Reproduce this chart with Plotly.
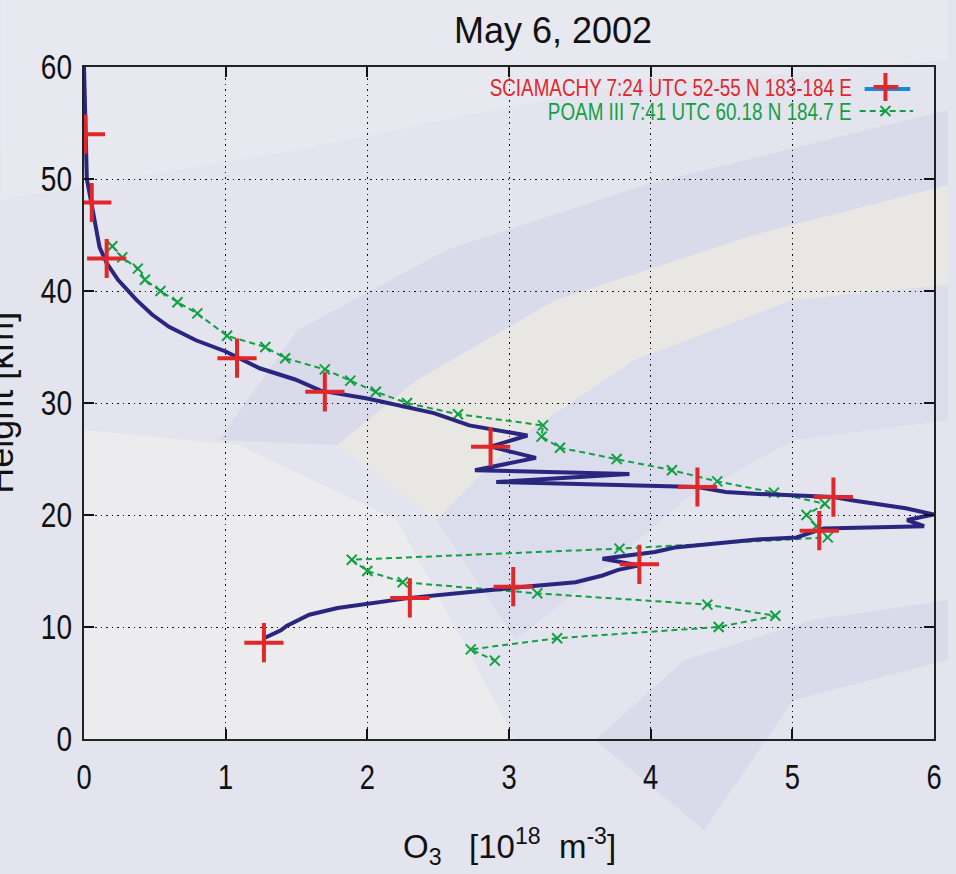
import plotly.graph_objects as go

# --- SCIAMACHY retrieved ozone profile (continuous line) ---
sci_profile_height = [60, 57, 54, 52, 50, 48, 45.7, 43.9, 42.5, 41, 39.2, 37.9, 36.8, 35.6,
                      34.6, 33.1, 32.1, 31.1, 30.4, 29.1, 28.0, 27.1, 26.1, 25.1, 24.0, 23.65,
                      22.95, 22.5, 22.05, 21.9, 21.6, 21.3, 20.6, 20.05, 19.55, 19.0, 18.8,
                      18.0, 17.8, 17.1, 16.7, 16.1, 15.5, 15.1, 14.6, 14.0, 13.5, 12.6, 11.7,
                      11.1, 10.1, 9.7, 9.0]
sci_profile_o3 = [0.0, 0.005, 0.01, 0.012, 0.02, 0.05, 0.08, 0.11, 0.16, 0.24, 0.37, 0.48, 0.60,
                  0.79, 1.0, 1.24, 1.49, 1.67, 2.0, 2.47, 2.72, 3.13, 2.87, 3.19, 2.76, 3.85,
                  2.91, 4.33, 4.53, 4.73, 5.29, 5.43, 5.80, 6.0, 5.81, 5.93, 5.22,
                  5.03, 4.73, 4.17, 4.03, 3.66, 3.92, 3.77, 3.66, 3.47, 3.03, 2.30, 1.79,
                  1.59, 1.43, 1.39, 1.27]

# --- SCIAMACHY retrieval levels (crosses) ---
sci_point_height = [54, 47.9, 42.9, 34.0, 31.0, 26.1, 22.5, 21.6, 18.6, 15.6, 13.6, 12.6, 8.6]
sci_point_o3 = [0.01, 0.055, 0.16, 1.08, 1.70, 2.87, 4.33, 5.29, 5.19, 3.92, 3.03, 2.30, 1.27]

# --- POAM III occultation profile ---
poam_height = [44, 43, 42, 41, 40, 39, 38, 36, 35, 34, 33, 32, 31, 30, 29, 28, 27, 26, 25, 24,
               23, 22, 21, 20, 19, 18, 17, 16, 15, 14, 13, 12, 11, 10, 9, 8, 7]
poam_o3 = [0.20, 0.27, 0.38, 0.43, 0.54, 0.66, 0.80, 1.01, 1.28, 1.42, 1.70, 1.88, 2.06, 2.28,
           2.64, 3.24, 3.23, 3.36, 3.76, 4.15, 4.47, 4.87, 5.23, 5.10, 5.17, 5.25, 3.78, 1.89,
           2.00, 2.25, 3.20, 4.40, 4.88, 4.48, 3.34, 2.73, 2.90]

x_ticks = [0, 1, 2, 3, 4, 5, 6]
y_ticks = [0, 10, 20, 30, 40, 50, 60]

sci_label = "SCIAMACHY 7:24 UTC 52-55 N 183-184 E"
poam_label = "POAM III 7:41 UTC 60.18 N 184.7 E"

NAVY = "#2a2680"
RED = "#e0282a"
GREEN = "#12a043"
FONT = "Liberation Sans, Arial, sans-serif"

W, H = 956, 874
ML, MR, MT, MB = 84, 14, 67, 135
PW, PH = W - ML - MR, H - MT - MB


def px(x):
    return (x - ML) / PW


def py(y):
    return (H - MB - y) / PH


def poly(points):
    return "M " + " L ".join(f"{px(a):.4f},{py(b):.4f}" for a, b in points) + " Z"


fig = go.Figure()

fig.add_trace(go.Scatter(x=poam_o3, y=poam_height, mode="lines+markers",
                         line=dict(color=GREEN, width=2, dash="6px,4px"),
                         marker=dict(symbol="x-thin", size=10, line=dict(color=GREEN, width=2)),
                         name=poam_label))
fig.add_trace(go.Scatter(x=sci_profile_o3, y=sci_profile_height, mode="lines",
                         line=dict(color=NAVY, width=4), name=sci_label))
fig.add_trace(go.Scatter(x=sci_point_o3, y=sci_point_height, mode="markers",
                         marker=dict(symbol="cross-thin", size=28, line=dict(color=RED, width=4)),
                         name=sci_label))

# faint swirl in the page background
bg_shapes = [
    (poly([(84, 430), (240, 445), (400, 520), (520, 740), (84, 740)]), "rgba(246,245,238,0.45)"),
    (poly([(220, 440), (300, 330), (450, 250), (650, 185), (956, 110), (956, 185), (760, 235),
           (560, 300), (420, 380), (340, 445)]), "rgba(178,180,222,0.20)"),
    (poly([(340, 445), (420, 380), (560, 300), (760, 235), (956, 185), (956, 285), (800, 300),
           (640, 360), (520, 440), (440, 520)]), "rgba(242,238,205,0.35)"),
    (poly([(440, 520), (520, 440), (640, 360), (800, 300), (956, 285), (956, 420), (800, 440),
           (690, 500), (620, 560), (520, 640)]), "rgba(182,185,225,0.18)"),
    (poly([(600, 740), (690, 660), (820, 620), (956, 600), (956, 660), (800, 700), (710, 830)]),
     "rgba(182,185,225,0.20)"),
    (poly([(0, 0), (956, 0), (956, 60), (600, 90), (300, 150), (0, 200)]), "rgba(236,236,242,0.5)"),
]
shapes = []
for path, col in bg_shapes:
    shapes.append(dict(type="path", xref="paper", yref="paper", path=path,
                       fillcolor=col, line=dict(width=0), layer="below"))

# legend keys drawn to the right of their labels
shapes += [
    dict(type="line", xref="paper", yref="paper", x0=px(872), x1=px(918), y0=py(89), y1=py(89),
         line=dict(color="#1e88d8", width=4)),
    dict(type="line", xref="paper", yref="paper", x0=px(893), x1=px(893), y0=py(73), y1=py(101),
         line=dict(color=RED, width=4)),
    dict(type="line", xref="paper", yref="paper", x0=px(881), x1=px(906), y0=py(87), y1=py(87),
         line=dict(color=RED, width=4)),
    dict(type="line", xref="paper", yref="paper", x0=px(867), x1=px(921), y0=py(111), y1=py(111),
         line=dict(color=GREEN, width=2, dash="6px,4px")),
    dict(type="line", xref="paper", yref="paper", x0=px(888), x1=px(898), y0=py(106), y1=py(116),
         line=dict(color=GREEN, width=2)),
    dict(type="line", xref="paper", yref="paper", x0=px(888), x1=px(898), y0=py(116), y1=py(106),
         line=dict(color=GREEN, width=2)),
]

annotations = [
    dict(text="May 6, 2002", xref="paper", yref="paper", x=px(557), y=py(31),
         xanchor="center", yanchor="middle", showarrow=False,
         font=dict(family=FONT, size=36, color="#111")),
    dict(text="O<sub>3</sub>   [10<sup>18</sup>  m<sup>-3</sup>]", xref="paper", yref="paper",
         x=px(513), y=py(846), xanchor="center", yanchor="middle", showarrow=False,
         font=dict(family=FONT, size=33, color="#111")),
    dict(text="Height [km]", xref="paper", yref="paper", x=px(-1), y=py(403),
         xanchor="center", yanchor="middle", textangle=-90, showarrow=False,
         font=dict(family=FONT, size=36, color="#111")),
    dict(text=sci_label, xref="paper", yref="paper", x=px(861), y=py(88),
         xanchor="right", yanchor="middle", showarrow=False,
         font=dict(family=FONT, size=23, color=RED)),
    dict(text=poam_label, xref="paper", yref="paper", x=px(861), y=py(112),
         xanchor="right", yanchor="middle", showarrow=False,
         font=dict(family=FONT, size=23, color=GREEN)),
]

axis_common = dict(showgrid=True, gridcolor="#111", griddash="1.5px,4px", gridwidth=1,
                   ticks="inside", ticklen=10, tickwidth=1.5, tickcolor="#111",
                   showline=True, linecolor="#222", linewidth=2, mirror="ticks",
                   zeroline=False, tickfont=dict(family=FONT, size=35, color="#111"))

fig.update_layout(
    width=W, height=H,
    margin=dict(l=ML, r=MR, t=MT, b=MB, pad=0),
    paper_bgcolor="#e3e4ee",
    plot_bgcolor="rgba(0,0,0,0)",
    showlegend=False,
    shapes=shapes,
    annotations=annotations,
    xaxis=dict(range=[0, 6], tickvals=x_ticks, ticktext=[str(v) for v in x_ticks],
               ticklabelstandoff=6, **axis_common),
    yaxis=dict(range=[0, 60], tickvals=y_ticks, ticktext=[str(v) for v in y_ticks],
               ticklabelstandoff=3, **axis_common),
)

# Tick labels and the key labels are set in a condensed face: narrow the
# glyphs horizontally around each label's anchor edge once the plot is drawn.
condense_js = """
var gd = document.getElementById('{plot_id}');
function squeeze(t, f, anchor) {
  var b = t.getBBox();
  var cx = anchor === 'end' ? b.x + b.width : b.x + b.width / 2;
  var tr = t.getAttribute('transform') || '';
  t.setAttribute('transform', tr + ' translate(' + cx + ',0) scale(' + f + ',1) translate(' + (-cx) + ',0)');
}
gd.querySelectorAll('g.xtick text').forEach(function (t) { squeeze(t, 0.78, 'middle'); });
gd.querySelectorAll('g.ytick text').forEach(function (t) { squeeze(t, 0.80, 'end'); });
gd.querySelectorAll('g.annotation text').forEach(function (t) {
  if ((t.textContent || '').indexOf('UTC') >= 0) { squeeze(t, 0.82, 'end'); }
});
"""

fig.write_html("out.html", post_script=condense_js)
